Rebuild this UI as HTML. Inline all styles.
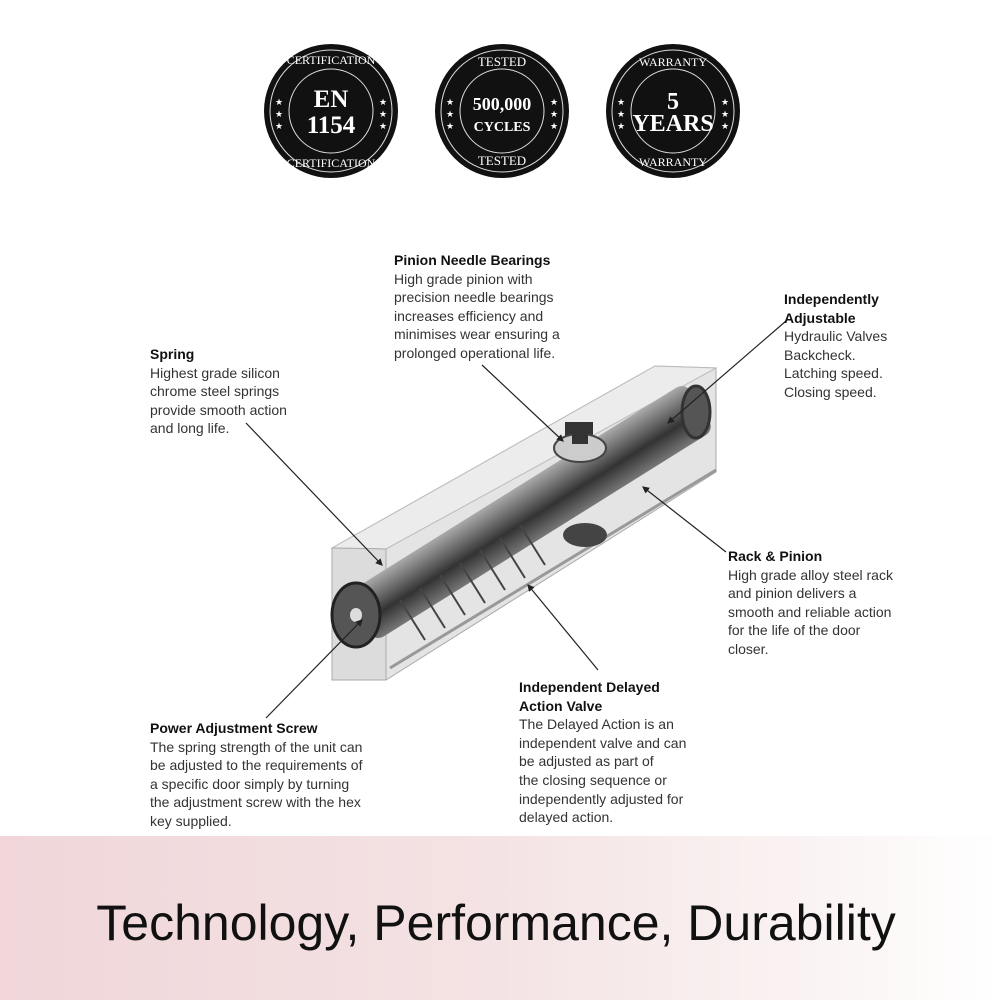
<!DOCTYPE html>
<html><head><style>
body{margin:0;width:1000px;height:1000px;background:#fff;position:relative;overflow:hidden;font-family:"Liberation Sans",sans-serif;color:#222}
.l{position:absolute;font-size:14px;line-height:18.6px;color:#333}
.l b{color:#111}
.band{position:absolute;left:0;top:836px;width:1000px;height:164px;background:linear-gradient(90deg,#f0d6d9 0%,#f4e3e4 50%,#fbf5f5 85%,#fff 100%)}
.band div{position:absolute;left:-4px;width:1000px;top:58px;text-align:center;font-size:50px;color:#111;letter-spacing:0px}
</style></head><body>
<svg width="1000" height="1000" style="position:absolute;left:0;top:0">
<defs>
<linearGradient id="cyl" x1="0" y1="0" x2="0" y2="1"><stop offset="0" stop-color="#aaa"/><stop offset=".35" stop-color="#666"/><stop offset=".6" stop-color="#333"/><stop offset="1" stop-color="#777"/></linearGradient>
<marker id="a" markerWidth="6" markerHeight="6" refX="5" refY="3" orient="auto"><path d="M0,0 L6,3 L0,6z" fill="#222"/></marker>
</defs>
<g font-family="Liberation Serif,serif" fill="#fff" text-anchor="middle">
<g transform="translate(331,111)"><circle r="67" fill="#111"/><circle r="61" fill="none" stroke="#ddd" stroke-width="1"/><circle r="42" fill="none" stroke="#ddd" stroke-width="1"/>
<text y="-4" font-size="25" font-weight="bold">EN</text><text y="22" font-size="25" font-weight="bold">1154</text>
<text y="-47" font-size="12">CERTIFICATION</text><text y="56" font-size="12">CERTIFICATION</text>
<text x="-52" y="-6" font-size="9">★</text><text x="-52" y="6" font-size="9">★</text><text x="-52" y="18" font-size="9">★</text><text x="52" y="-6" font-size="9">★</text><text x="52" y="6" font-size="9">★</text><text x="52" y="18" font-size="9">★</text></g>
<g transform="translate(502,111)"><circle r="67" fill="#111"/><circle r="61" fill="none" stroke="#ddd" stroke-width="1"/><circle r="42" fill="none" stroke="#ddd" stroke-width="1"/>
<text y="-1" font-size="18" font-weight="bold">500,000</text><text y="20" font-size="14" font-weight="bold">CYCLES</text>
<text y="-45" font-size="13">TESTED</text><text y="54" font-size="13">TESTED</text>
<text x="-52" y="-6" font-size="9">★</text><text x="-52" y="6" font-size="9">★</text><text x="-52" y="18" font-size="9">★</text><text x="52" y="-6" font-size="9">★</text><text x="52" y="6" font-size="9">★</text><text x="52" y="18" font-size="9">★</text></g>
<g transform="translate(673,111)"><circle r="67" fill="#111"/><circle r="61" fill="none" stroke="#ddd" stroke-width="1"/><circle r="42" fill="none" stroke="#ddd" stroke-width="1"/>
<text y="-2" font-size="24" font-weight="bold">5</text><text y="20" font-size="24" font-weight="bold">YEARS</text>
<text y="-45" font-size="12">WARRANTY</text><text y="55" font-size="12">WARRANTY</text>
<text x="-52" y="-6" font-size="9">★</text><text x="-52" y="6" font-size="9">★</text><text x="-52" y="18" font-size="9">★</text><text x="52" y="-6" font-size="9">★</text><text x="52" y="6" font-size="9">★</text><text x="52" y="18" font-size="9">★</text></g>
</g>
<polygon points="332,548 655,366 716,368 716,472 386,680 332,680" fill="#e4e4e4" stroke="#aaa"/>
<polygon points="332,548 386,549 716,368 655,366" fill="#ececec" stroke="#bbb"/>
<polygon points="332,548 386,549 386,680 332,680" fill="#dcdcdc" stroke="#aaa"/>
<line x1="390" y1="668" x2="716" y2="470" stroke="#999" stroke-width="3"/>
<g transform="translate(530,512) rotate(-32)">
<rect x="-200" y="-28" width="400" height="56" rx="10" fill="url(#cyl)"/>
</g>
<g fill="none" stroke="#444" stroke-width="2">
<path d="M400,600 l25,40 M420,588 l25,40 M440,575 l25,40 M460,563 l25,40 M480,550 l25,40 M500,538 l25,40 M520,525 l25,40"/>
</g>
<ellipse cx="356" cy="615" rx="24" ry="32" fill="#555" stroke="#222" stroke-width="3"/>
<ellipse cx="356" cy="615" rx="6" ry="7" fill="#ddd"/>
<ellipse cx="696" cy="412" rx="14" ry="26" fill="#555" stroke="#333" stroke-width="3"/>
<rect x="565" y="422" width="28" height="30" fill="#333"/>
<ellipse cx="580" cy="448" rx="26" ry="14" fill="#ccc" stroke="#444" stroke-width="2"/>
<rect x="572" y="424" width="16" height="20" fill="#333"/>
<ellipse cx="585" cy="535" rx="22" ry="12" fill="#444"/>
<g stroke="#222" stroke-width="1.2" marker-end="url(#a)">
<line x1="482" y1="365" x2="563" y2="441"/>
<line x1="786" y1="321" x2="668" y2="423"/>
<line x1="246" y1="423" x2="382" y2="565"/>
<line x1="726" y1="552" x2="643" y2="487"/>
<line x1="598" y1="670" x2="528" y2="585"/>
<line x1="266" y1="718" x2="362" y2="620"/>
</g>
</svg>
<div class="l" style="left:394px;top:251px"><b>Pinion Needle Bearings</b><br>High grade pinion with<br>precision needle bearings<br>increases efficiency and<br>minimises wear ensuring a<br>prolonged operational life.</div>
<div class="l" style="left:784px;top:290px"><b>Independently<br>Adjustable</b><br>Hydraulic Valves<br>Backcheck.<br>Latching speed.<br>Closing speed.</div>
<div class="l" style="left:150px;top:345px"><b>Spring</b><br>Highest grade silicon<br>chrome steel springs<br>provide smooth action<br>and long life.</div>
<div class="l" style="left:728px;top:547px"><b>Rack &amp; Pinion</b><br>High grade alloy steel rack<br>and pinion delivers a<br>smooth and reliable action<br>for the life of the door<br>closer.</div>
<div class="l" style="left:519px;top:678px"><b>Independent Delayed<br>Action Valve</b><br>The Delayed Action is an<br>independent valve and can<br>be adjusted as part of<br>the closing sequence or<br>independently adjusted for<br>delayed action.</div>
<div class="l" style="left:150px;top:719px"><b>Power Adjustment Screw</b><br>The spring strength of the unit can<br>be adjusted to the requirements of<br>a specific door simply by turning<br>the adjustment screw with the hex<br>key supplied.</div>
<div class="band"><div>Technology, Performance, Durability</div></div>
</body></html>
